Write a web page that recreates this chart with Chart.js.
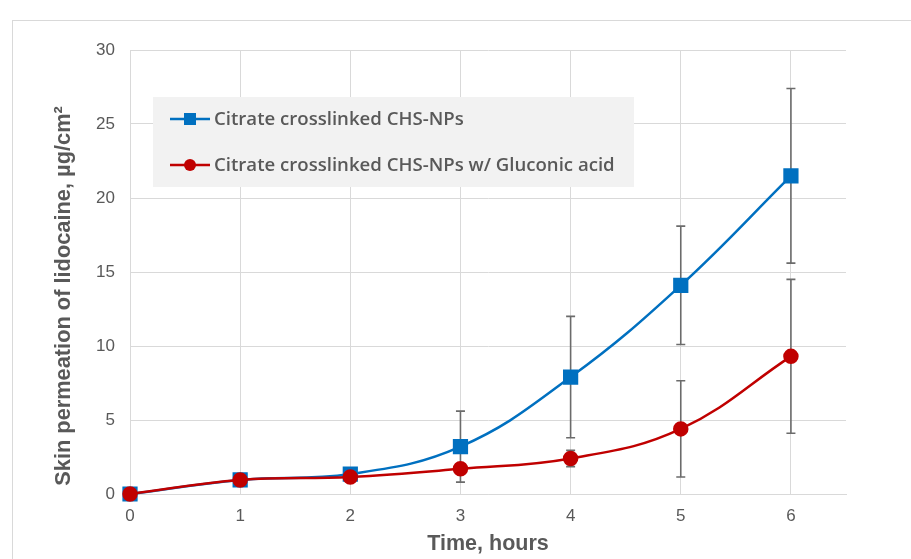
<!DOCTYPE html>
<html>
<head>
<meta charset="utf-8">
<script src="https://cdn.jsdelivr.net/npm/chart.js@4.4.1/dist/chart.umd.min.js"></script>
<style>
  html, body { margin: 0; padding: 0; background: #ffffff; }
  #wrap { position: relative; width: 911px; height: 559px; overflow: hidden; }
  #frame { position: absolute; left: 12px; top: 20px; width: 960px; height: 600px; border: 1px solid #d9d9d9; box-sizing: border-box; }
  canvas { position: absolute; left: 0; top: 0; }
</style>
</head>
<body>
<div id="wrap">
  <div id="frame"></div>
  <canvas id="c" width="911" height="559"></canvas>
</div>
<script>
// ---- data ----
const times = [0, 1, 2, 3, 4, 5, 6];
const yTicks = [0, 5, 10, 15, 20, 25, 30];
const seriesLabels = ['Citrate crosslinked CHS-NPs', 'Citrate crosslinked CHS-NPs w/ Gluconic acid'];
const citrateValues = [0, 0.95, 1.35, 3.2, 7.9, 14.1, 21.5];
const citrateErrors = [0, 0.1, 0.15, 2.4, 4.1, 4.0, 5.9];
const gluconicValues = [0, 0.95, 1.15, 1.7, 2.4, 4.4, 9.3];
const gluconicErrors = [0, 0.1, 0.1, 0.3, 0.55, 3.25, 5.2];
const xTitle = 'Time, hours';
const yTitle = 'Skin permeation of lidocaine, \u00b5g/cm\u00b2';

const BLUE = '#0070C0';
const RED = '#C00000';
const GRID = '#d9d9d9';
const TXT = '#595959';
const ARIAL = '"Liberation Sans", Arial, sans-serif';

function toPoints(vals) { return times.map((t, i) => ({ x: t, y: vals[i] })); }

const errorBarPlugin = {
  id: 'errorBars',
  beforeDatasetsDraw(chart) {
    const ctx = chart.ctx;
    const xs = chart.scales.x, ys = chart.scales.y;
    ctx.save();
    ctx.strokeStyle = '#6b6b6b';
    ctx.lineWidth = 1.6;
    chart.data.datasets.forEach(ds => {
      ds.data.forEach((p, i) => {
        const e = ds.errors[i];
        if (!e) return;
        const px = xs.getPixelForValue(p.x);
        const top = ys.getPixelForValue(p.y + e);
        const bot = ys.getPixelForValue(p.y - e);
        ctx.beginPath();
        ctx.moveTo(px, top); ctx.lineTo(px, bot);
        ctx.moveTo(px - 4.5, top); ctx.lineTo(px + 4.5, top);
        ctx.moveTo(px - 4.5, bot); ctx.lineTo(px + 4.5, bot);
        ctx.stroke();
      });
    });
    ctx.restore();
  }
};

const yTitlePlugin = {
  id: 'yTitle',
  afterDraw(chart) {
    const ctx = chart.ctx;
    const a = chart.chartArea;
    ctx.save();
    ctx.translate(64, (a.top + a.bottom) / 2 + 24);
    ctx.rotate(-Math.PI / 2);
    ctx.fillStyle = TXT;
    ctx.font = 'bold 21.8px ' + ARIAL;
    ctx.textAlign = 'center';
    ctx.textBaseline = 'middle';
    ctx.fillText(yTitle, 0, 0);
    ctx.restore();
  }
};

const legendPlugin = {
  id: 'boxLegend',
  afterDatasetsDraw(chart) {
    const ctx = chart.ctx;
    const a = chart.chartArea;
    const bx = a.left + 23, by = a.top + 47, bw = 481, bh = 90;
    ctx.save();
    ctx.fillStyle = '#f2f2f2';
    ctx.fillRect(bx, by, bw, bh);
    const rows = [by + 22, by + 68];
    chart.data.datasets.forEach((ds, i) => {
      const y = rows[i];
      const x0 = bx + 17, x1 = bx + 57, xm = (x0 + x1) / 2;
      ctx.strokeStyle = ds.borderColor;
      ctx.lineWidth = 2.5;
      ctx.beginPath(); ctx.moveTo(x0, y); ctx.lineTo(x1, y); ctx.stroke();
      ctx.fillStyle = ds.pointBackgroundColor;
      if (ds.pointStyle === 'rect') {
        ctx.fillRect(xm - 6, y - 6, 12, 12);
      } else {
        ctx.beginPath(); ctx.arc(xm, y, 6, 0, Math.PI * 2); ctx.fill();
      }
      ctx.fillStyle = TXT;
      ctx.font = '600 18.6px "Open Sans", "Noto Sans", sans-serif';
      ctx.textBaseline = 'middle';
      ctx.textAlign = 'left';
      ctx.fillText(ds.label, x1 + 4, y + 1);
    });
    ctx.restore();
  }
};

new Chart(document.getElementById('c'), {
  type: 'line',
  data: {
    datasets: [
      {
        label: seriesLabels[0],
        data: toPoints(citrateValues),
        errors: citrateErrors,
        borderColor: BLUE,
        backgroundColor: BLUE,
        pointBackgroundColor: BLUE,
        pointBorderColor: BLUE,
        pointStyle: 'rect',
        pointRadius: 9,
        borderWidth: 2.5,
        tension: 0.4,
        clip: false,
        order: 2
      },
      {
        label: seriesLabels[1],
        data: toPoints(gluconicValues),
        errors: gluconicErrors,
        borderColor: RED,
        backgroundColor: RED,
        pointBackgroundColor: RED,
        pointBorderColor: RED,
        pointStyle: 'circle',
        pointRadius: 6.5,
        borderWidth: 2.5,
        tension: 0.4,
        clip: false,
        order: 1
      }
    ]
  },
  options: {
    responsive: false,
    animation: false,
    layout: { padding: { left: 0, top: 50, right: 65, bottom: 0 } },
    plugins: { legend: { display: false }, tooltip: { enabled: false } },
    scales: {
      x: {
        type: 'linear',
        min: 0,
        max: 6.5,
        afterBuildTicks: s => { s.ticks = times.map(v => ({ value: v })); },
        afterFit: s => { s.height = 65; },
        grid: { color: GRID, lineWidth: 1, drawTicks: false },
        border: { color: GRID, width: 1 },
        ticks: { color: TXT, padding: 12, font: { family: ARIAL, size: 17 }, maxRotation: 0 },
        title: { display: true, text: xTitle, color: TXT, padding: { top: 0, bottom: 2 }, font: { family: ARIAL, size: 21.5, weight: 'bold' } }
      },
      y: {
        min: 0,
        max: 30,
        afterBuildTicks: s => { s.ticks = yTicks.map(v => ({ value: v })); },
        afterFit: s => { s.width = 130; },
        grid: { color: GRID, lineWidth: 1, drawTicks: false },
        border: { color: GRID, width: 1 },
        ticks: { color: TXT, padding: 15, font: { family: ARIAL, size: 17 } },
        title: { display: false }
      }
    }
  },
  plugins: [errorBarPlugin, legendPlugin, yTitlePlugin]
});
</script>
</body>
</html>
